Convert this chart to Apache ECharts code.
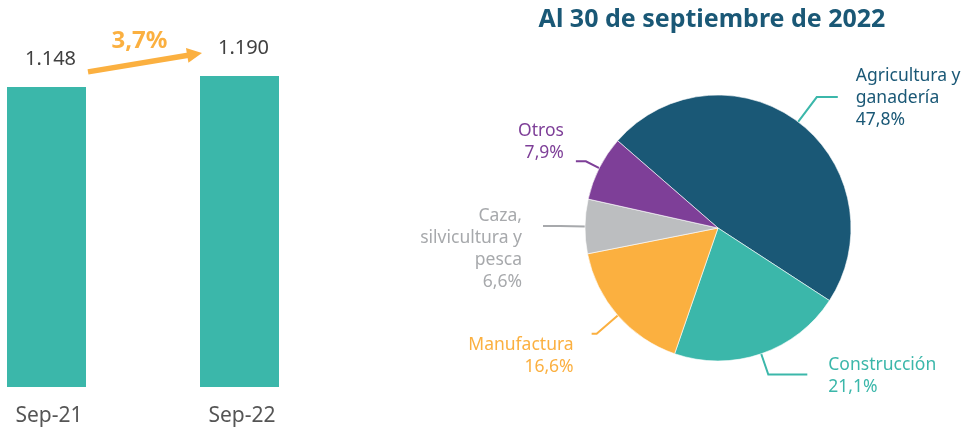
<!DOCTYPE html>
<html><head><meta charset="utf-8">
<script src="https://cdn.jsdelivr.net/npm/echarts@6/dist/echarts.min.js"></script>
<style>html,body{margin:0;padding:0;background:#fff}#c{width:969px;height:429px}</style>
</head><body><div id="c"></div>
<script>
// ---- data ----
const barCategories = ['Sep-21', 'Sep-22'];
const barValues = [1148, 1190];
const barLabels = ['1.148', '1.190'];
const growthLabel = '3,7%';
const pieTitle = 'Al 30 de septiembre de 2022';
const pieNames = ['Agricultura y\nganadería', 'Construcción', 'Manufactura', 'Caza,\nsilvicultura y\npesca', 'Otros'];
const pieValues = [47.8, 21.1, 16.6, 6.6, 7.9];
const pieLabels = ['47,8%', '21,1%', '16,6%', '6,6%', '7,9%'];

// ---- styles ----
const FONT = 'Noto Sans';
const TEAL = '#3BB7AA', NAVY = '#1A5876', ORANGE = '#FBB040', GREY = '#BCBEC0', PURPLE = '#7E3F98';
const sliceColors = [NAVY, TEAL, ORANGE, GREY, PURPLE];
const labelColors = [NAVY, TEAL, ORANGE, '#A7A9AC', PURPLE];
const lineColors = [TEAL, TEAL, ORANGE, '#A7A9AC', PURPLE];
// len/len2: leader line segments; dist: gap to text; shift: vertical text offset from line end
const labelTweaks = [
  {len: 31, len2: 21, dist: 18, shift: 1},
  {len: 22, len2: 39, dist: 21, shift: 1},
  {len: 28, len2: 5, dist: 18, shift: 22},
  {len: 25, len2: 17, dist: 21, shift: 23},
  {len: 15, len2: 10, dist: 12, shift: -19}
];

function labelText(i) {
  const lines = (pieNames[i] + '\n' + pieLabels[i]).split('\n').map(s => '{t|' + s + '}');
  const s = labelTweaks[i].shift;
  if (s > 0) lines.unshift('{sp| }');
  if (s < 0) lines.push('{sp| }');
  return {text: lines.join('\n'), sp: Math.abs(s) * 2};
}

const pieData = pieNames.map((n, i) => {
  const lt = labelText(i);
  return {
    name: n,
    value: pieValues[i],
    itemStyle: {color: sliceColors[i]},
    label: {
      color: labelColors[i], distanceToLabelLine: labelTweaks[i].dist,
      formatter: lt.text,
      rich: {
        t: {fontSize: 17.5, lineHeight: 22, fontFamily: FONT, color: labelColors[i]},
        sp: {fontSize: 1, lineHeight: lt.sp || 1}
      }
    },
    labelLine: {length: labelTweaks[i].len, length2: labelTweaks[i].len2, lineStyle: {color: lineColors[i], width: 2}}
  };
});

const chart = echarts.init(document.getElementById('c'), null, {renderer: 'canvas'});
chart.setOption({
  animation: false,
  backgroundColor: '#fff',
  textStyle: {fontFamily: FONT},
  grid: {left: 46.5, width: 193, top: 21, height: 366, containLabel: false},
  xAxis: {
    type: 'category', data: barCategories, boundaryGap: false,
    axisLine: {show: false}, axisTick: {show: false}, splitLine: {show: false},
    axisLabel: {fontSize: 21, color: '#555', margin: 19, fontFamily: FONT, padding: [0, 0, 0, 5]}
  },
  yAxis: {type: 'value', min: 0, max: 1400, show: false, splitLine: {show: false}},
  series: [
    {
      type: 'bar', data: barValues, barWidth: 79,
      itemStyle: {color: TEAL},
      label: {show: true, position: 'top', distance: 18, offset: [4, 0], fontSize: 20, color: '#404040', fontFamily: FONT,
        formatter: p => barLabels[p.dataIndex]}
    },
    {
      type: 'pie', center: [718, 228], radius: 133, startAngle: 139, clockwise: true,
      avoidLabelOverlap: false,
      labelLayout: {hideOverlap: false},
      itemStyle: {borderColor: '#fff', borderWidth: 0.6},
      label: {show: true, position: 'outside', fontSize: 17.5, lineHeight: 22, fontFamily: FONT},
      labelLine: {show: true, smooth: false},
      emphasis: {disabled: true},
      data: pieData
    }
  ]
});

// growth arrow anchored to the bar tops
const p0 = chart.convertToPixel({xAxisIndex: 0, yAxisIndex: 0}, [0, barValues[0]]);
const p1 = chart.convertToPixel({xAxisIndex: 0, yAxisIndex: 0}, [1, barValues[1]]);
const sx = p0[0] + 41.5, sy = p0[1] - 15;
const tx = p1[0] - 37.5, ty = p1[1] - 23;
const L = Math.hypot(tx - sx, ty - sy), ux = (tx - sx) / L, uy = (ty - sy) / L;
const hl = 15, hw = 7.5;
const bx = tx - ux * hl, by = ty - uy * hl;
chart.setOption({
  graphic: [
    {type: 'text', x: 712, y: 20,
      style: {text: pieTitle, align: 'center', verticalAlign: 'middle', fill: NAVY, font: 'bold 25px "Noto Sans"'}},
    {type: 'line', shape: {x1: sx, y1: sy, x2: bx + ux, y2: by + uy}, style: {stroke: ORANGE, lineWidth: 5.5}},
    {type: 'polygon', shape: {points: [[tx, ty], [bx - uy * hw, by + ux * hw], [bx + uy * hw, by - ux * hw]]},
      style: {fill: ORANGE}},
    {type: 'text', x: (sx + tx) / 2 - 5.5, y: (sy + ty) / 2 - 21,
      style: {text: growthLabel, align: 'center', verticalAlign: 'middle', fill: ORANGE, font: 'bold 24px "Noto Sans"'}}
  ]
});
</script>
</body></html>
